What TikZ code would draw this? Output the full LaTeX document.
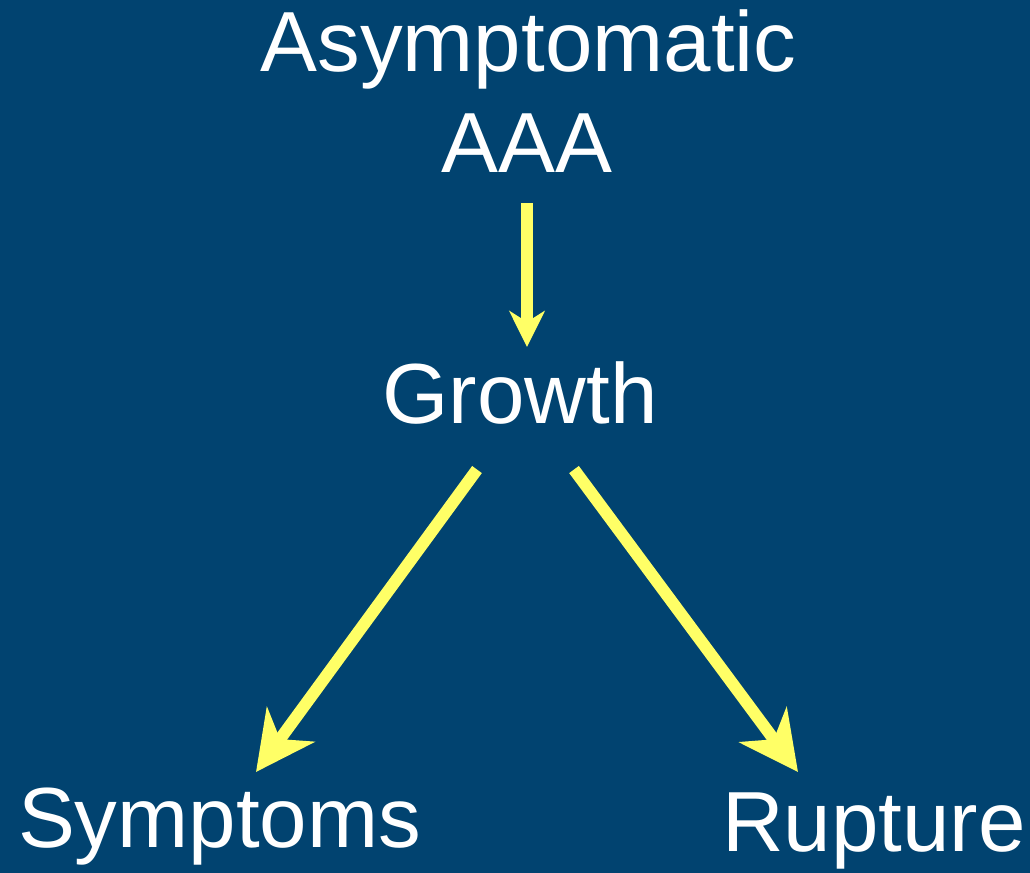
\documentclass[tikz,border=0pt]{standalone}
\usepackage{fontspec}
\setmainfont{Liberation Sans}
\usetikzlibrary{arrows.meta}
\definecolor{bgblue}{RGB}{1,67,112}
\definecolor{arrowyellow}{RGB}{255,255,102}
\begin{document}
\begin{tikzpicture}[x=0.75pt,y=-0.75pt,
  lbl/.style={text=white,font=\fontsize{64}{72}\selectfont,inner sep=0pt,outer sep=0pt},
  arr/.style={draw=arrowyellow,line width=9pt,line cap=butt},
  tipsmall/.style={-{Stealth[length=27pt,width=26.5pt,inset=8.25pt]}},
  tipbig/.style={-{Stealth[length=44pt,width=44pt,inset=13.5pt]}}]
\fill[bgblue] (0,0) rectangle (1030,873);
\useasboundingbox (0,0) rectangle (1030,873);
\node[lbl,anchor=base] (asym) at (528.5,72) {Asymptomatic};
\node[lbl,anchor=base] (aaa) at (527,173) {AAA};
\node[lbl,anchor=base] (growth) at (520,423) {Growth};
\node[lbl,anchor=base west] (symp) at (18,847) {Symptoms};
\node[lbl,anchor=base west] (rupt) at (722,851) {Rupture};
\draw[arr,tipsmall] ([yshift=-22.5pt]aaa.base) -- ([xshift=5.25pt,yshift=57pt]growth.base);
\draw[arr,tipbig] ([xshift=-32.25pt,yshift=-34.9pt]growth.base) -- ([xshift=178.5pt,yshift=56.25pt]symp.base west);
\draw[arr,tipbig] ([xshift=40.5pt,yshift=-34.9pt]growth.base) -- ([xshift=57pt,yshift=59.25pt]rupt.base west);
\end{tikzpicture}
\end{document}
